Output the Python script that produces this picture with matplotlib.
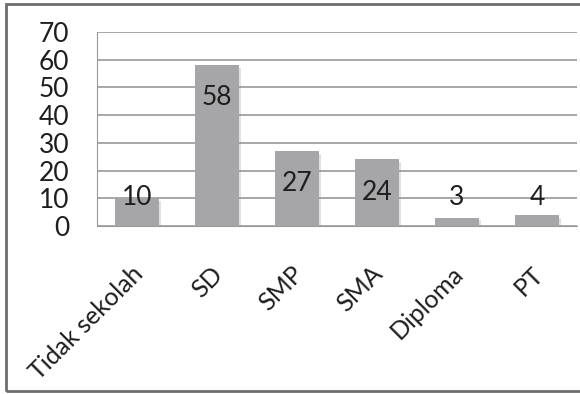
import matplotlib
matplotlib.use('Agg')
import matplotlib.pyplot as plt
import matplotlib.patheffects as pe
import matplotlib.transforms as mtransforms
from matplotlib.patches import Rectangle

categories = ['Tidak sekolah', 'SD', 'SMP', 'SMA', 'Diploma', 'PT']
counts = [10, 58, 27, 24, 3, 4]
y_ticks = [0, 10, 20, 30, 40, 50, 60, 70]

plt.rcParams['font.family'] = ['Lato', 'DejaVu Sans']

W, H = 580, 394
fig = plt.figure(figsize=(W / 100, H / 100), dpi=100)
fig.patch.set_facecolor('white')

# plot area in pixel terms
left, right, top, bottom = 97, 577, 32, 226
ax = fig.add_axes([left / W, 1 - bottom / H, (right - left) / W, (bottom - top) / H])

x = range(len(categories))
bars = ax.bar(x, counts, width=0.56, color='#a6a6a8', zorder=3,
              path_effects=[pe.SimplePatchShadow(offset=(1.5, -2), shadow_rgbFace='#888888', alpha=0.25),
                            pe.Normal()])

ax.set_xlim(-0.5, len(categories) - 0.5)
ax.set_ylim(0, 70)
ax.set_yticks(y_ticks)
ax.yaxis.grid(True, color='#8f8f8f', linewidth=1.1, zorder=0)
ax.set_axisbelow(True)

for side in ['top', 'right']:
    ax.spines[side].set_visible(False)
ax.spines['left'].set_color('#9a9a9a')
ax.spines['bottom'].set_color('#9a9a9a')

ax.tick_params(axis='y', length=0, pad=20, labelsize=19, labelcolor='#1e1e1e')
ax.tick_params(axis='x', length=0, pad=26, labelsize=18, labelcolor='#1e1e1e')
ax.set_xticks(list(x))
ax.set_xticklabels(categories, rotation=45, ha='right', va='top', rotation_mode='anchor')
# nudge the slanted category labels a little to the left
shift = mtransforms.ScaledTranslation(-6 / 100, 0, fig.dpi_scale_trans)
for lbl in ax.get_xticklabels():
    lbl.set_transform(lbl.get_transform() + shift)

# value labels just inside the bar tops
for xi, v in zip(x, counts):
    ax.text(xi, max(v - 11.8, 10.3), str(v), ha='center', va='center',
            fontsize=19, color='#1e1e1e', zorder=4)

# outer chart frame
fig.add_artist(Rectangle((6 / W, 1 - 391 / H), 1.0, (391 - 4) / H,
                         transform=fig.transFigure, fill=False,
                         edgecolor='#6e6e6e', linewidth=2))

fig.savefig('out.png', dpi=100, facecolor='white')
